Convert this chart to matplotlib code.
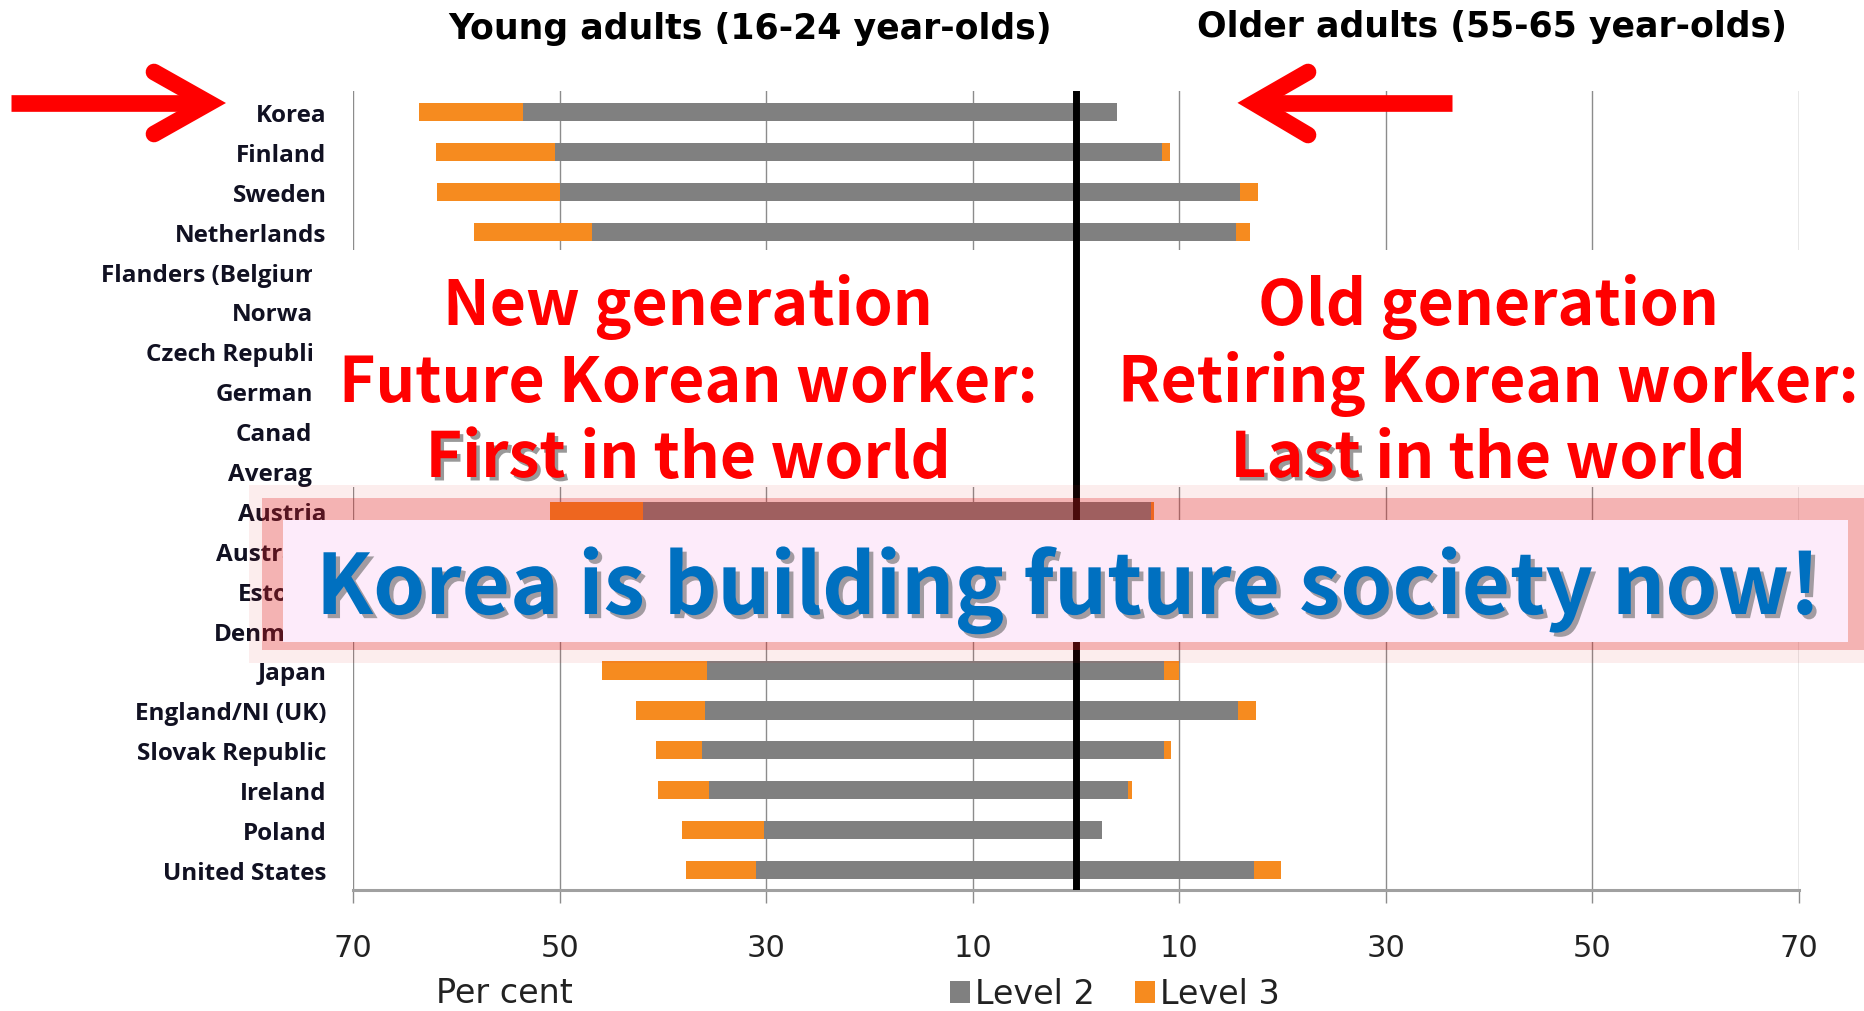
import matplotlib
matplotlib.use("Agg")
import matplotlib.pyplot as plt
import matplotlib.patheffects as pe
from matplotlib.patches import Rectangle
from matplotlib.lines import Line2D
import numpy as np

# PIAAC problem solving, share at Level 2 / Level 3 (per cent)
countries = ["Korea", "Finland", "Sweden", "Netherlands", "Flanders (Belgium)",
             "Norway", "Czech Republic", "Germany", "Canada", "Average",
             "Austria", "Australia", "Estonia", "Denmark", "Japan",
             "England/NI (UK)", "Slovak Republic", "Ireland", "Poland", "United States"]
young_l2 = [53.5, 50.4, 50.0, 46.9, 45.0, 44.0, 42.5, 41.5, 40.5, 40.0,
            41.9, 39.5, 39.0, 38.0, 35.7, 35.9, 36.2, 35.5, 30.2, 31.0]
young_l3 = [10.1, 11.6, 11.9, 11.4, 10.0, 10.0, 9.0, 9.0, 9.0, 9.0,
            9.0, 9.0, 8.0, 8.0, 10.2, 6.7, 4.5, 5.0, 7.9, 6.8]
old_l2 = [4.0, 8.3, 15.9, 15.5, 9.0, 12.0, 10.0, 11.0, 14.0, 11.0,
          7.3, 15.0, 6.0, 17.0, 8.5, 15.7, 8.5, 5.0, 2.5, 17.2]
old_l3 = [0.0, 0.8, 1.7, 1.3, 1.0, 1.5, 1.0, 1.0, 1.5, 1.0,
          0.3, 2.0, 0.5, 2.0, 1.5, 1.7, 0.7, 0.4, 0.0, 2.6]
tick_vals = [-70, -50, -30, -10, 10, 30, 50, 70]

GRAY = "#808080"
ORANGE = "#F68B1F"
W, H = 1864, 1012


def fx(x):
    return x / W


def fy(y):
    return 1 - y / H


fig = plt.figure(figsize=(W / 100, H / 100), dpi=100)
ax = fig.add_axes([fx(353), fy(891), (1799 - 353) / W, (891 - 92) / H])

y = np.arange(len(countries))
yl2 = np.array(young_l2)
yl3 = np.array(young_l3)
ol2 = np.array(old_l2)
ol3 = np.array(old_l3)

bh = 0.46
bar2 = ax.barh(y, -yl2, height=bh, color=GRAY, zorder=1)
bar3 = ax.barh(y, -yl3, left=-yl2, height=bh, color=ORANGE, zorder=1)
ax.barh(y, ol2, height=bh, color=GRAY, zorder=1)
ax.barh(y, ol3, left=ol2, height=bh, color=ORANGE, zorder=1)

ax.set_xlim(-70, 70)
ax.set_ylim(19.504, -0.527)
ax.set_xticks(tick_vals)
ax.set_xticklabels([str(abs(v)) for v in tick_vals], fontsize=22,
                   family="DejaVu Sans", color="#222222")
ax.set_yticks(y)
ax.set_yticklabels(countries, family="Open Sans", fontweight="bold",
                   fontsize=17.5, color="#111122")
ax.tick_params(axis="y", length=0, pad=19)
ax.tick_params(axis="x", length=9, width=1, color="#8c8c8c", pad=22)
ax.set_axisbelow(True)
ax.grid(axis="x", color="#8c8c8c", linewidth=1)
for s in ["top", "left", "right"]:
    ax.spines[s].set_visible(False)
ax.spines["bottom"].set_color("#a0a0a0")
ax.spines["bottom"].set_linewidth(2.2)

# white cover behind the "generation" text
ax.add_patch(Rectangle((fx(312), fy(488)), 1 - fx(312), (488 - 251) / H,
                       transform=fig.transFigure, facecolor="white",
                       edgecolor="none", clip_on=False, zorder=3))
ax.axvline(0, color="black", linewidth=5, zorder=4)

# pink glow band and box
ax.add_patch(Rectangle((fx(249), fy(664)), 1 - fx(249), (664 - 486) / H,
                       transform=fig.transFigure, facecolor="#E02020", alpha=0.08,
                       edgecolor="none", clip_on=False, zorder=5))
ax.add_patch(Rectangle((fx(262), fy(651)), 1 - fx(262), (651 - 499) / H,
                       transform=fig.transFigure, facecolor="#E02020", alpha=0.28,
                       edgecolor="none", clip_on=False, zorder=5))
ax.add_patch(Rectangle((fx(283), fy(643)), (1848 - 283) / W, (643 - 521) / H,
                       transform=fig.transFigure, facecolor="#FDEBFA",
                       edgecolor="none", clip_on=False, zorder=6))

# headers
fig.text(fx(750), fy(29), "Young adults (16-24 year-olds)", ha="center", va="center",
         fontsize=25, fontweight="bold", family="DejaVu Sans")
fig.text(fx(1492), fy(27), "Older adults (55-65 year-olds)", ha="center", va="center",
         fontsize=25, fontweight="bold", family="DejaVu Sans")

# bottom labels
fig.text(fx(436), fy(994), "Per cent", ha="left", va="center", fontsize=24,
         family="DejaVu Sans", color="#222222")
fig.legend([bar2, bar3], ["Level 2", "Level 3"], loc="center left",
           bbox_to_anchor=(fx(950), fy(995)), ncol=2, frameon=False,
           prop={"family": "DejaVu Sans", "size": 24}, handlelength=0.6,
           handleheight=0.65, handletextpad=0.15, columnspacing=1.2,
           borderpad=0, borderaxespad=0, labelcolor="#222222")

# red comments
red_font = dict(family=["Noto Sans CJK KR", "DejaVu Sans"], fontweight="bold",
                fontsize=45, color="#FF0000", ha="center", va="baseline", zorder=7)
left_lines = ["New generation", "Future Korean worker:"]
right_lines = ["Old generation", "Retiring Korean worker:"]
last_lines = [("First", " in the world"), ("Last", " in the world")]
baselines = [325, 402, 478]
shadow = [pe.SimplePatchShadow(offset=(2.5, -2.5), shadow_rgbFace="#555555", alpha=0.6),
          pe.Normal()]

fig.canvas.draw()
renderer = fig.canvas.get_renderer()
for lines, (word, rest), cx in [(left_lines, last_lines[0], 688),
                                (right_lines, last_lines[1], 1488)]:
    for txt, b in zip(lines, baselines):
        fig.text(fx(cx), fy(b), txt, **red_font)
    # measure the whole last line, then draw it in two parts
    probe = fig.text(fx(cx), fy(baselines[2]), word + rest, **red_font)
    bb = probe.get_window_extent(renderer)
    probe.remove()
    kw = dict(red_font)
    kw["ha"] = "left"
    fig.text(bb.x0 / W, fy(baselines[2]), word, path_effects=shadow, **kw)
    kw["ha"] = "right"
    fig.text(bb.x1 / W, fy(baselines[2]), rest, **kw)

# blue banner text
fig.text(fx(1068), fy(615), "Korea is building future society now!",
         ha="center", va="baseline", fontsize=60, fontweight="bold",
         family=["Noto Sans CJK KR", "DejaVu Sans"], color="#0070C0", zorder=8,
         path_effects=[pe.SimplePatchShadow(offset=(3, -3), shadow_rgbFace="#666666",
                                            alpha=0.6), pe.Normal()])

# red arrows
lw = 12


def fline(xs, ys, **kw):
    fig.add_artist(Line2D([fx(v) for v in xs], [fy(v) for v in ys],
                          transform=fig.transFigure, color="#FF0000",
                          linewidth=lw, **kw))


fline([11, 196], [104, 104], solid_capstyle="butt")
fline([154, 209, 154], [73, 104, 135], solid_capstyle="round", solid_joinstyle="miter")
fline([1262, 1452], [104, 104], solid_capstyle="butt")
fline([1308, 1254, 1308], [73, 104, 136], solid_capstyle="round", solid_joinstyle="miter")

fig.savefig("out.png", dpi=100)
